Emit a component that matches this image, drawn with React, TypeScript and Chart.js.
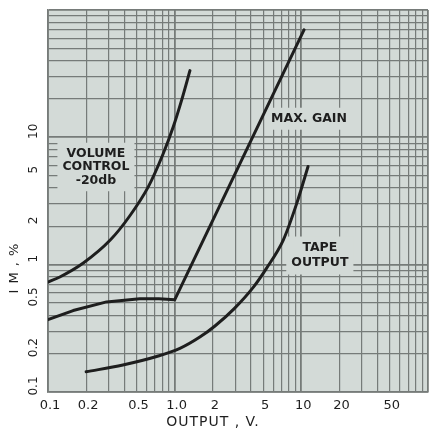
import React, { useEffect, useRef } from 'react';
import { Chart, registerables } from 'chart.js';

Chart.register(...registerables);

// ---- Axis ticks / labels ----
const gridValues = [
  0.1, 0.2, 0.3, 0.4, 0.5, 0.6, 0.7, 0.8, 0.9,
  1, 2, 3, 4, 5, 6, 7, 8, 9,
  10, 20, 30, 40, 50, 60, 70, 80, 90, 100,
];
const xLabelValues = [0.1, 0.2, 0.5, 1, 2, 5, 10, 20, 50];
const xLabelTexts = ['0.1', '0.2', '0.5', '1.0', '2', '5', '10', '20', '50'];
const yLabelValues = [0.1, 0.2, 0.5, 1, 2, 5, 10];
const yLabelTexts = ['0.1', '0.2', '0.5', '1', '2', '5', '10'];

// ---- Series ----
const volumeX = [0.1, 0.124, 0.19, 0.31, 0.44, 0.62, 0.81, 0.975, 1.135, 1.32];
const volumeY = [0.73, 0.8, 1.03, 1.56, 2.4, 4.1, 7.4, 12.1, 19.6, 33.4];

const maxGainX = [0.1, 0.158, 0.29, 0.53, 0.75, 1.0, 10.5];
const maxGainY = [0.37, 0.436, 0.51, 0.54, 0.54, 0.53, 69.8];

const tapeX = [0.2, 0.39, 0.72, 1.1, 1.58, 2.08, 2.94, 4.2, 5.32, 7.2, 9.2, 11.3];
const tapeY = [0.144, 0.163, 0.19, 0.22, 0.27, 0.33, 0.45, 0.67, 0.94, 1.56, 3.03, 5.9];

// ---- Texts ----
const volumeLabel = ['VOLUME', 'CONTROL', '-20db'];
const maxGainLabel = ['MAX. GAIN'];
const tapeLabel = ['TAPE', 'OUTPUT'];
const xTitle = 'OUTPUT , V.';
const yTitle = 'I M , %';

const PAPER = '#d3dad7';
const GRID = '#767b79';
const INK = '#1e1e1e';

function labelFor(values: number[], texts: string[], v: number): string {
  for (let i = 0; i < values.length; i++) {
    if (Math.abs(values[i] - v) / values[i] < 1e-6) return texts[i];
  }
  return '';
}

function toPoints(xs: number[], ys: number[]) {
  return xs.map((x, i) => ({ x, y: ys[i] }));
}

const annotations = [
  { lines: volumeLabel, x: 0.239, y: 5.85, lh: 13.5 },
  { lines: maxGainLabel, x: 11.5, y: 14.0, lh: 14 },
  { lines: tapeLabel, x: 14.0, y: 1.18, lh: 15 },
];

const paperPlugin = {
  id: 'paperPlugin',
  beforeDraw(chart: any) {
    const { ctx, chartArea: a } = chart;
    ctx.save();
    ctx.fillStyle = PAPER;
    ctx.fillRect(a.left, a.top, a.right - a.left, a.bottom - a.top);
    ctx.restore();
  },
  beforeDatasetsDraw(chart: any) {
    const { ctx } = chart;
    const xs = chart.scales.x;
    const ys = chart.scales.y;
    ctx.save();
    ctx.font = 'bold 12.5px "DejaVu Sans"';
    ctx.textAlign = 'center';
    ctx.textBaseline = 'middle';
    for (const an of annotations) {
      const cx = xs.getPixelForValue(an.x);
      const cy = ys.getPixelForValue(an.y);
      const n = an.lines.length;
      const w = Math.max(...an.lines.map((l: string) => ctx.measureText(l).width));
      const h = n * an.lh;
      ctx.fillStyle = PAPER;
      ctx.fillRect(cx - w / 2 - 5, cy - h / 2 - 4, w + 10, h + 8);
      ctx.fillStyle = INK;
      an.lines.forEach((l: string, i: number) => {
        ctx.fillText(l, cx, cy - h / 2 + an.lh * (i + 0.5));
      });
    }
    ctx.restore();
  },
  afterDraw(chart: any) {
    const { ctx } = chart;
    ctx.save();
    ctx.fillStyle = INK;
    ctx.font = '14px "DejaVu Sans"';
    (ctx as any).letterSpacing = '1px';
    ctx.textAlign = 'center';
    ctx.textBaseline = 'middle';
    ctx.fillText(xTitle, 213, 422);
    ctx.font = '13px "DejaVu Sans"';
    ctx.translate(15, 268);
    ctx.rotate(-Math.PI / 2);
    ctx.fillText(yTitle, 0, 0);
    ctx.restore();
  },
};

export default function App() {
  const canvasRef = useRef<HTMLCanvasElement | null>(null);

  useEffect(() => {
    if (!canvasRef.current) return;
    const setTicks = (scale: any) => {
      scale.ticks = gridValues.map((v) => ({ value: v, major: false }));
    };
    const gridColor = () => GRID;
    const gridWidth = (c: any) => {
      const v = c.tick ? c.tick.value : 0;
      const lg = Math.log10(v);
      return Math.abs(lg - Math.round(lg)) < 1e-6 ? 1.8 : 1.2;
    };
    const chart = new Chart(canvasRef.current, {
      type: 'line',
      data: {
        datasets: [
          {
            label: 'Volume control -20db',
            data: toPoints(volumeX, volumeY),
            borderColor: INK,
            borderWidth: 3,
            pointRadius: 0,
            cubicInterpolationMode: 'monotone',
            borderCapStyle: 'round',
          },
          {
            label: 'Max. gain',
            data: toPoints(maxGainX, maxGainY),
            borderColor: INK,
            borderWidth: 3,
            pointRadius: 0,
            tension: 0,
            borderCapStyle: 'round',
            borderJoinStyle: 'round',
          },
          {
            label: 'Tape output',
            data: toPoints(tapeX, tapeY),
            borderColor: INK,
            borderWidth: 3,
            pointRadius: 0,
            cubicInterpolationMode: 'monotone',
            borderCapStyle: 'round',
          },
        ],
      },
      options: {
        animation: false,
        responsive: true,
        maintainAspectRatio: false,
        layout: { padding: { top: 10, right: 1, bottom: 0, left: 0 } },
        plugins: {
          legend: { display: false },
          tooltip: { enabled: false },
          title: { display: false },
        },
        scales: {
          x: {
            type: 'logarithmic',
            min: 0.1,
            max: 100,
            afterBuildTicks: setTicks,
            afterFit: (s: any) => {
              s.height = 40;
              s.paddingLeft = 0;
              s.paddingRight = 0;
            },
            grid: { color: gridColor, lineWidth: gridWidth, drawTicks: false },
            border: { display: true, color: GRID, width: 1.5 },
            ticks: {
              autoSkip: false,
              maxRotation: 0,
              minRotation: 0,
              padding: 6,
              labelOffset: 2,
              color: INK,
              font: { family: 'DejaVu Sans', size: 13 },
              callback: (v: any) => labelFor(xLabelValues, xLabelTexts, Number(v)),
            },
          },
          y: {
            type: 'logarithmic',
            min: 0.1,
            max: 100,
            afterBuildTicks: setTicks,
            afterFit: (s: any) => {
              s.width = 48;
              s.paddingTop = 0;
              s.paddingBottom = 0;
            },
            grid: { color: gridColor, lineWidth: gridWidth, drawTicks: false },
            border: { display: true, color: GRID, width: 1.5 },
            ticks: {
              autoSkip: false,
              minRotation: 90,
              maxRotation: 90,
              crossAlign: 'center',
              padding: 5,
              labelOffset: -6,
              color: INK,
              font: { family: 'DejaVu Sans', size: 12 },
              callback: (v: any) => labelFor(yLabelValues, yLabelTexts, Number(v)),
            },
          },
        },
      } as any,
      plugins: [paperPlugin],
    });
    return () => chart.destroy();
  }, []);

  return (
    <div style={{ position: 'absolute', left: 0, top: 0, width: 429, height: 432, background: '#fff' }}>
      <canvas ref={canvasRef} />
    </div>
  );
}
